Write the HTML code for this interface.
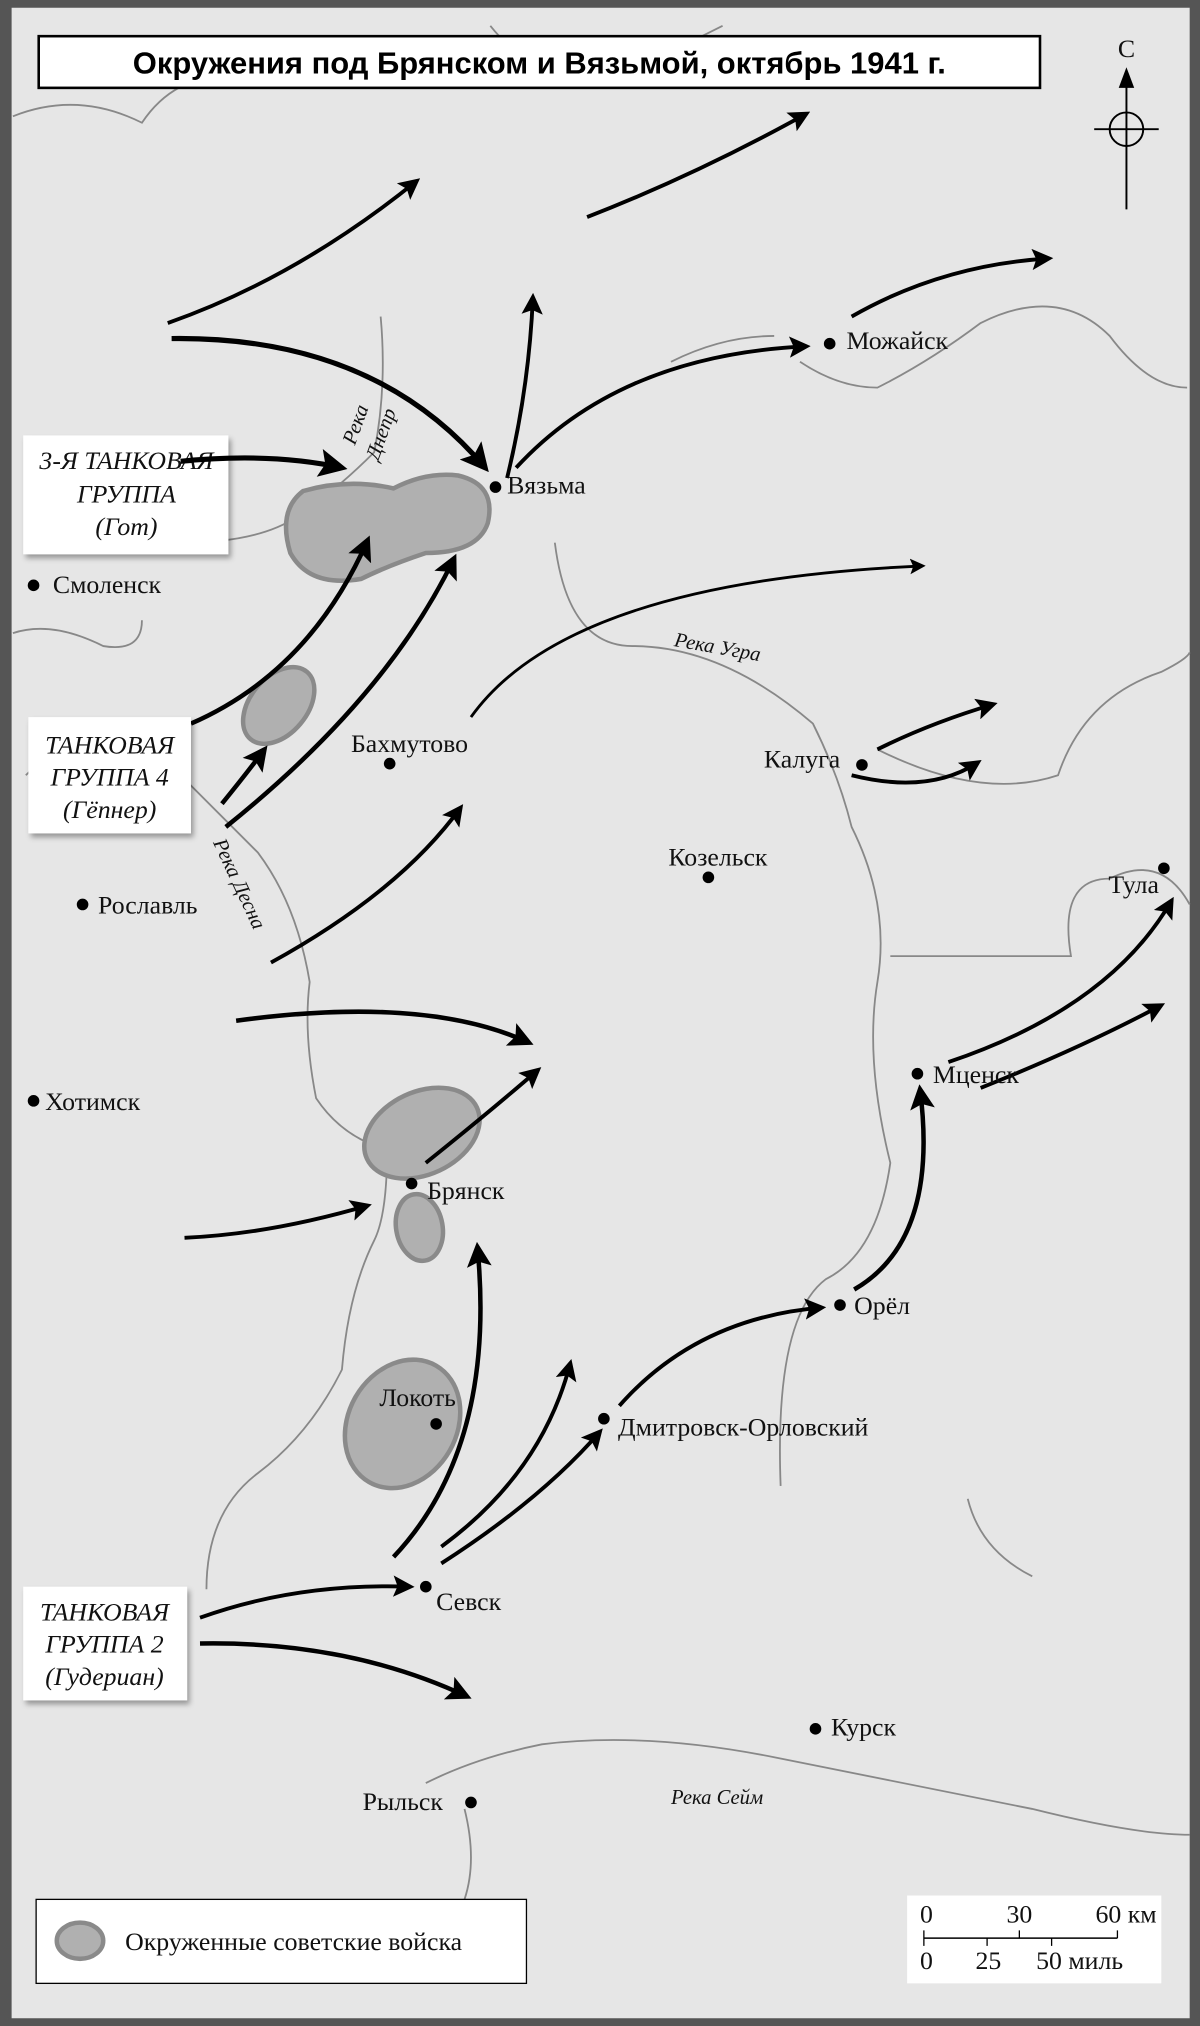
<!DOCTYPE html>
<html><head><meta charset="utf-8"><style>
html,body{margin:0;padding:0;background:#e6e6e6}
svg{display:block}
.c{font-family:"Liberation Serif",serif;font-size:20px;fill:#111}
.i{font-family:"Liberation Serif",serif;font-style:italic;fill:#111}
.r{fill:none;stroke:#888;stroke-width:1.4}
.a{fill:none;stroke:#000;marker-end:url(#ah)}
.b{fill:#b0b0b0;stroke:#8a8a8a;stroke-width:3.5}
</style></head><body>
<svg width="1200" height="2026" viewBox="0 0 930 1568" preserveAspectRatio="none" xmlns="http://www.w3.org/2000/svg">
<defs>
<marker id="ah" viewBox="0 0 10 10" refX="8" refY="5" markerWidth="5.5" markerHeight="5.5" orient="auto" markerUnits="strokeWidth"><path d="M0,0 L10,5 L0,10 L2,5z" fill="#000"/></marker>
<filter id="sh"><feDropShadow dx="2" dy="3" stdDeviation="2" flood-opacity="0.35"/></filter>
</defs>
<rect width="930" height="1568" fill="#555"/>
<rect x="9" y="6" width="913" height="1556" fill="#e6e6e6"/>
<path class="r" d="M10,90 Q60,70 110,95 Q140,50 200,60"/>
<path class="r" d="M380,20 Q420,70 480,60 Q520,40 560,20"/>
<path class="r" d="M140,420 Q200,420 230,400 Q260,380 290,350 Q300,300 295,245"/>
<path class="r" d="M20,600 Q80,540 120,580 Q170,630 200,660 Q230,700 240,760 Q235,800 245,850 Q265,880 300,890 Q300,940 290,960 Q270,1000 265,1060 Q240,1110 200,1140 Q160,1170 160,1230"/>
<path class="r" d="M430,420 Q440,500 490,500 Q560,500 630,560 Q650,600 660,640 Q690,700 680,760 Q670,820 690,900 Q680,970 640,990 Q600,1020 605,1150"/>
<path class="r" d="M620,280 Q650,300 680,300 Q720,280 760,250 Q820,220 860,260 Q890,300 920,300"/>
<path class="r" d="M520,280 Q560,260 600,260"/>
<path class="r" d="M680,580 Q760,620 820,600 Q840,540 900,520 Q920,510 922,505"/>
<path class="r" d="M690,740 Q760,740 830,740 Q820,680 860,680 Q900,660 922,700"/>
<path class="r" d="M330,1380 Q370,1360 420,1350 Q500,1340 600,1360 Q700,1380 800,1400 Q880,1420 922,1420"/>
<path class="r" d="M360,1400 Q370,1440 360,1470"/>
<path class="r" d="M10,490 Q40,480 80,500 Q110,505 110,480"/>
<path class="r" d="M750,1160 Q760,1200 800,1220"/>
<path class="b" d="M235,380 Q270,370 305,378 Q330,365 355,368 Q385,375 378,405 Q370,428 330,428 Q300,438 280,448 Q240,455 225,428 Q215,395 235,380z"/>
<ellipse class="b" cx="216" cy="546" rx="22" ry="34" transform="rotate(40 216 546)"/>
<ellipse class="b" cx="327" cy="877" rx="47" ry="32" transform="rotate(-25 327 877)"/>
<ellipse class="b" cx="325" cy="950" rx="18" ry="26" transform="rotate(-10 325 950)"/>
<ellipse class="b" cx="312" cy="1102" rx="42" ry="52" transform="rotate(30 312 1102)"/>
<g class="a">
<path stroke-width="3" d="M130,250 Q230,215 323,140"/>
<path stroke-width="3" d="M455,168 Q540,135 625,88"/>
<path stroke-width="4" d="M133,262 Q290,260 376,362"/>
<path stroke-width="3" d="M393,370 Q410,300 413,230"/>
<path stroke-width="3" d="M400,362 Q480,275 625,268"/>
<path stroke-width="3" d="M660,245 Q730,205 813,200"/>
<path stroke-width="3.5" d="M148,560 Q240,520 285,418"/>
<path stroke-width="3.5" d="M175,640 Q300,540 352,432"/>
<path stroke-width="3.5" d="M172,622 Q190,600 205,580"/>
<path stroke-width="2.2" d="M365,555 Q440,450 715,438"/>
<path stroke-width="3" d="M210,745 Q310,690 357,625"/>
<path stroke-width="3.5" d="M183,790 Q330,770 410,807"/>
<path stroke-width="3" d="M330,900 Q380,860 417,828"/>
<path stroke-width="3" d="M143,958 Q210,955 285,933"/>
<path stroke-width="3.5" d="M305,1205 Q385,1120 370,965"/>
<path stroke-width="3" d="M342,1197 Q420,1140 442,1055"/>
<path stroke-width="3" d="M342,1210 Q420,1160 465,1108"/>
<path stroke-width="3" d="M155,1252 Q230,1225 318,1228"/>
<path stroke-width="3.5" d="M155,1272 Q270,1270 362,1313"/>
<path stroke-width="3" d="M480,1088 Q540,1020 637,1012"/>
<path stroke-width="3.5" d="M662,998 Q728,960 713,843"/>
<path stroke-width="3" d="M735,822 Q860,780 908,697"/>
<path stroke-width="3" d="M760,842 Q840,810 900,778"/>
<path stroke-width="3" d="M680,580 Q720,560 770,545"/>
<path stroke-width="3" d="M660,600 Q720,615 758,590"/>
</g>
<rect x="30" y="28" width="776" height="40" fill="#fff" stroke="#000" stroke-width="2"/>
<text x="418" y="57" text-anchor="middle" font-family="Liberation Sans,sans-serif" font-weight="bold" font-size="24" fill="#000">Окружения под Брянском и Вязьмой, октябрь 1941 г.</text>
<text x="873" y="44" text-anchor="middle" class="c">С</text>
<line x1="873" y1="58" x2="873" y2="162" stroke="#000" stroke-width="1.5"/>
<path d="M873,52 L867,68 L879,68z" fill="#000"/>
<circle cx="873" cy="100" r="13" fill="none" stroke="#000" stroke-width="1.5"/>
<line x1="848" y1="100" x2="898" y2="100" stroke="#000" stroke-width="1.5"/>
<g fill="#000">
<circle cx="384" cy="377" r="4.5"/><circle cx="26" cy="453" r="4.5"/><circle cx="643" cy="266" r="4.5"/>
<circle cx="302" cy="591" r="4.5"/><circle cx="668" cy="592" r="4.5"/><circle cx="549" cy="679" r="4.5"/>
<circle cx="64" cy="700" r="4.5"/><circle cx="902" cy="672" r="4.5"/><circle cx="26" cy="852" r="4.5"/>
<circle cx="711" cy="831" r="4.5"/><circle cx="319" cy="916" r="4.5"/><circle cx="651" cy="1010" r="4.5"/>
<circle cx="338" cy="1102" r="4.5"/><circle cx="468" cy="1098" r="4.5"/><circle cx="330" cy="1228" r="4.5"/>
<circle cx="632" cy="1338" r="4.5"/><circle cx="365" cy="1395" r="4.5"/>
</g>
<text class="c" x="393" y="382">Вязьма</text>
<text class="c" x="41" y="459">Смоленск</text>
<text class="c" x="656" y="270">Можайск</text>
<text class="c" x="272" y="582">Бахмутово</text>
<text class="c" x="592" y="594">Калуга</text>
<text class="c" x="518" y="670">Козельск</text>
<text class="c" x="76" y="707">Рославль</text>
<text class="c" x="859" y="691">Тула</text>
<text class="c" x="35" y="859">Хотимск</text>
<text class="c" x="723" y="838">Мценск</text>
<text class="c" x="331" y="928">Брянск</text>
<text class="c" x="662" y="1017">Орёл</text>
<text class="c" x="294" y="1088">Локоть</text>
<text class="c" x="479" y="1111">Дмитровск-Орловский</text>
<text class="c" x="338" y="1246">Севск</text>
<text class="c" x="644" y="1343">Курск</text>
<text class="c" x="281" y="1401">Рыльск</text>
<text class="i" font-size="16" transform="translate(275,345) rotate(-70)">Река</text>
<text class="i" font-size="16" transform="translate(293,357) rotate(-70)">Днепр</text>
<text class="i" font-size="16" transform="translate(522,500) rotate(10)">Река Угра</text>
<text class="i" font-size="16" transform="translate(165,652) rotate(65)">Река Десна</text>
<text class="i" font-size="16" x="520" y="1396">Река Сейм</text>
<g filter="url(#sh)">
<rect x="18" y="337" width="159" height="92" fill="#fff"/>
<rect x="22" y="555" width="126" height="90" fill="#fff"/>
<rect x="18" y="1228" width="127" height="88" fill="#fff"/>
</g>
<g class="i" font-size="20" text-anchor="middle">
<text x="98" y="363">3-Я ТАНКОВАЯ</text><text x="98" y="389">ГРУППА</text><text x="98" y="414">(Гот)</text>
<text x="85" y="583">ТАНКОВАЯ</text><text x="85" y="608">ГРУППА 4</text><text x="85" y="633">(Гёпнер)</text>
<text x="81" y="1254">ТАНКОВАЯ</text><text x="81" y="1279">ГРУППА 2</text><text x="81" y="1304">(Гудериан)</text>
</g>
<path d="M140,357 Q210,350 265,362" stroke="#000" stroke-width="4" fill="none" marker-end="url(#ah)"/>
<rect x="28" y="1470" width="380" height="65" fill="#fff" stroke="#000" stroke-width="1"/>
<ellipse cx="62" cy="1502" rx="18" ry="14" class="b"/>
<text class="c" x="97" y="1509">Окруженные советские войска</text>
<rect x="703" y="1467" width="197" height="68" fill="#fff"/>
<g class="c" font-size="16">
<text x="713" y="1488">0</text><text x="780" y="1488">30</text><text x="849" y="1488">60 км</text>
<text x="713" y="1524">0</text><text x="756" y="1524">25</text><text x="803" y="1524">50 миль</text>
</g>
<line x1="716" y1="1500" x2="866" y2="1500" stroke="#000" stroke-width="1.2"/>
<line x1="716" y1="1494" x2="716" y2="1506" stroke="#000"/><line x1="790" y1="1494" x2="790" y2="1500" stroke="#000"/>
<line x1="866" y1="1494" x2="866" y2="1500" stroke="#000"/><line x1="765" y1="1500" x2="765" y2="1506" stroke="#000"/>
<line x1="815" y1="1500" x2="815" y2="1506" stroke="#000"/>
</svg>
</body></html>
